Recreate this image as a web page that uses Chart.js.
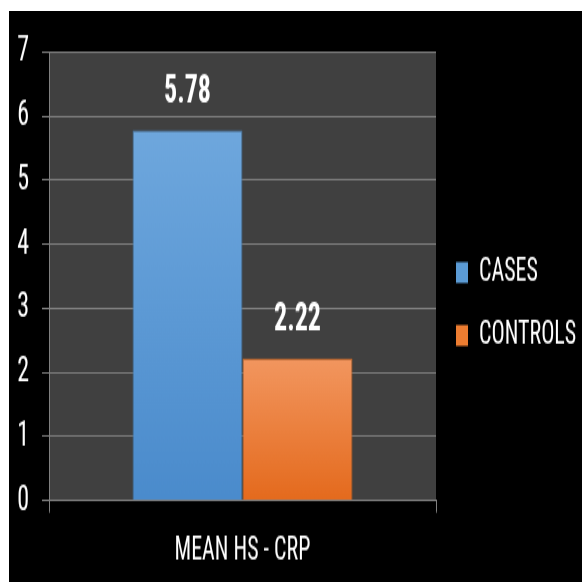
<!DOCTYPE html>
<html>
<head>
<meta charset="utf-8">
<script src="https://cdn.jsdelivr.net/npm/chart.js@4.4.1/dist/chart.umd.min.js"></script>
<style>
html, body { margin: 0; padding: 0; background: #fff; overflow: hidden; width: 582px; height: 582px; }
#wrap { position: absolute; left: 9px; top: 11px; width: 573px; height: 571px; background: #000; overflow: hidden; }
/* il testo originale e' stirato in verticale: disegno basso e poi allungo */
#chart { display: block; width: 573px; height: 381px; transform: scaleY(1.4987); transform-origin: 0 0; }
</style>
</head>
<body>
<div id="wrap"><canvas id="chart" width="573" height="381"></canvas></div>
<script>
const categories = ['MEAN HS - CRP'];
const seriesNames = ['CASES', 'CONTROLS'];
const casesValues = [5.78];
const controlsValues = [2.22];
const yMin = 0;
const yMax = 7;
const yStep = 1;

const FONT = '"Roboto Condensed", "DejaVu Sans Condensed", "Liberation Sans", sans-serif';
const blueTop = '#6ea7dd', blueBottom = '#4a8bcc';
const orangeTop = '#f2965f', orangeBottom = '#e46a1d';
const legendColors = ['#5b9bd5', '#ed7d31'];

function barGradient(top, bottom) {
    return function(c) {
        const chart = c.chart;
        const y = chart.scales.y;
        if (!chart.chartArea || !y || c.raw === undefined) return top;
        const g = chart.ctx.createLinearGradient(0, y.getPixelForValue(c.raw), 0, y.getPixelForValue(0));
        g.addColorStop(0, top);
        g.addColorStop(1, bottom);
        return g;
    };
}

// sfondo nero + area grafico grigia
const background = {
    id: 'background',
    beforeDraw(chart) {
        const { ctx, chartArea: a } = chart;
        ctx.save();
        ctx.fillStyle = '#000';
        ctx.fillRect(0, 0, chart.width, chart.height);
        ctx.fillStyle = '#404040';
        ctx.fillRect(a.left, a.top, a.right - a.left, a.bottom - a.top);
        ctx.restore();
    }
};

// legenda a destra: larghezza fissa e un po' piu' in alto
const legendFix = {
    id: 'legendFix',
    beforeUpdate(chart) {
        const lg = chart.legend;
        if (!lg || lg._patched) return;
        const origFit = lg.fit;
        lg.fit = function() {
            origFit.call(this);
            this.width = 146;
        };
        const origDraw = lg.draw;
        lg.draw = function(area) {
            const t = this.top, b = this.bottom;
            this.top -= 7;
            this.bottom -= 7;
            origDraw.call(this, area);
            this.top = t;
            this.bottom = b;
        };
        lg._patched = true;
    }
};

// etichette valori sopra le barre
const valueLabels = {
    id: 'valueLabels',
    afterDatasetsDraw(chart) {
        const ctx = chart.ctx;
        ctx.save();
        ctx.fillStyle = '#fff';
        ctx.font = 'bold 26px ' + FONT;
        ctx.textAlign = 'center';
        ctx.textBaseline = 'middle';
        chart.data.datasets.forEach((ds, i) => {
            chart.getDatasetMeta(i).data.forEach((bar, j) => {
                ctx.fillText(ds.data[j].toFixed(2), bar.x, bar.y - 25.5);
            });
        });
        ctx.restore();
    }
};

const chart = new Chart(document.getElementById('chart'), {
    type: 'bar',
    data: {
        labels: categories,
        datasets: [
            { label: seriesNames[0], data: casesValues, backgroundColor: barGradient(blueTop, blueBottom), borderColor: '#41719c', borderWidth: 1 },
            { label: seriesNames[1], data: controlsValues, backgroundColor: barGradient(orangeTop, orangeBottom), borderColor: '#c0601f', borderWidth: 1 }
        ]
    },
    options: {
        responsive: false,
        animation: false,
        devicePixelRatio: 1,
        layout: { padding: { top: 24, left: 0, right: 0, bottom: 0 } },
        datasets: { bar: { categoryPercentage: 0.5685, barPercentage: 1 } },
        plugins: {
            tooltip: { enabled: false },
            legend: {
                position: 'right',
                labels: {
                    color: '#fff',
                    font: { family: FONT, size: 22 },
                    boxWidth: 12,
                    boxHeight: 14,
                    padding: 20,
                    generateLabels(ch) {
                        const items = Chart.defaults.plugins.legend.labels.generateLabels(ch);
                        items.forEach((it, i) => { it.fillStyle = legendColors[i]; it.strokeStyle = legendColors[i]; it.lineWidth = 0; });
                        return items;
                    }
                }
            }
        },
        scales: {
            x: {
                grid: { display: true, drawOnChartArea: false, color: '#808080', tickLength: 8, offset: true },
                border: { display: true, color: '#808080' },
                ticks: { color: '#fff', font: { family: FONT, size: 22 }, padding: 13 },
                afterFit(s) { s.height = 54.33; }
            },
            y: {
                min: yMin,
                max: yMax,
                ticks: { stepSize: yStep, color: '#fff', font: { family: FONT, size: 24 }, padding: 13 },
                grid: { color: '#808080', tickLength: 7, lineWidth: 1 },
                border: { display: true, color: '#808080' },
                afterFit(s) { s.width = 40; }
            }
        }
    },
    plugins: [background, legendFix, valueLabels]
});
</script>
</body>
</html>
